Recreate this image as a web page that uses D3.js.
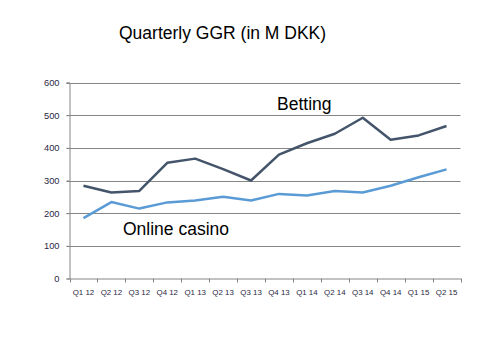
<!DOCTYPE html>
<html><head><meta charset="utf-8">
<script src="https://cdn.jsdelivr.net/npm/d3@7"></script>
<style>body{margin:0;background:#fff}svg{display:block}</style>
</head><body>
<svg id="c" width="489" height="356"></svg>
<script>
const categories = ["Q1 12","Q2 12","Q3 12","Q4 12","Q1 13","Q2 13","Q3 13","Q4 13","Q1 14","Q2 14","Q3 14","Q4 14","Q1 15","Q2 15"];
const betting = [284, 263, 268, 354, 367, 335, 300, 379, 414, 443, 492, 425, 438, 467];
const onlineCasino = [185, 234, 214, 233, 239, 250, 239, 259, 254, 268, 263, 284, 310, 334];
const yTicks = [0, 100, 200, 300, 400, 500, 600];

const svg = d3.select("#c");
const m = {l: 69.5, r: 460.5, t: 82.5, b: 278.5};
const x = d3.scaleBand().domain(categories).range([m.l, m.r]);
const y = d3.scaleLinear().domain([0, 600]).range([m.b, m.t]);

// gridlines
svg.append("g").selectAll("line").data(yTicks.filter(d => d > 0)).join("line")
  .attr("x1", m.l - 3).attr("x2", m.r).attr("y1", d => Math.round(y(d)) + 0.5).attr("y2", d => Math.round(y(d)) + 0.5)
  .attr("stroke", "#868686").attr("stroke-width", 1);

// y axis
const ya = svg.append("g").attr("transform", `translate(${m.l},0)`)
  .call(d3.axisLeft(y).tickValues(yTicks).tickSize(3).tickPadding(7));
ya.select(".domain").attr("stroke", "#868686");
ya.selectAll(".tick line").attr("stroke", "#868686");
ya.selectAll("text").attr("font-family", "'Liberation Sans', Arial, sans-serif")
  .attr("font-size", 9.3).attr("fill", "#2a1f3f");

// x axis
const xa = svg.append("g").attr("transform", `translate(0,${m.b})`)
  .call(d3.axisBottom(x).tickSize(0).tickPadding(11));
xa.select(".domain").attr("stroke", "#868686");
xa.selectAll("text").attr("font-family", "'Liberation Sans', Arial, sans-serif")
  .attr("font-size", 7.9).attr("fill", "#2a1f3f");
// x tick marks at band boundaries
const bounds = categories.map(c => x(c)).concat([x.range()[1]]);
svg.append("g").selectAll("line").data(bounds).join("line")
  .attr("x1", d => Math.round(d) + 0.5).attr("x2", d => Math.round(d) + 0.5)
  .attr("y1", m.b).attr("y2", m.b + 4).attr("stroke", "#868686");

const line = d3.line().x((d, i) => x(categories[i]) + x.bandwidth() / 2).y(d => y(d));
svg.append("path").datum(onlineCasino).attr("d", line).attr("fill", "none")
  .attr("stroke", "#5b9bd5").attr("stroke-width", 2.5).attr("stroke-linejoin", "round");
svg.append("path").datum(betting).attr("d", line).attr("fill", "none")
  .attr("stroke", "#44546a").attr("stroke-width", 2.5).attr("stroke-linejoin", "round");

const font = "Arial, 'Liberation Sans', sans-serif";
svg.append("text").attr("x", 119).attr("y", 39).text("Quarterly GGR (in M DKK)")
  .attr("font-family", font).attr("font-size", 17.5).attr("fill", "#000");
svg.append("text").attr("x", 277).attr("y", 110).text("Betting")
  .attr("font-family", font).attr("font-size", 17.5).attr("fill", "#000");
svg.append("text").attr("x", 123).attr("y", 235).text("Online casino")
  .attr("font-family", font).attr("font-size", 17.5).attr("fill", "#000");
</script>
</body></html>
